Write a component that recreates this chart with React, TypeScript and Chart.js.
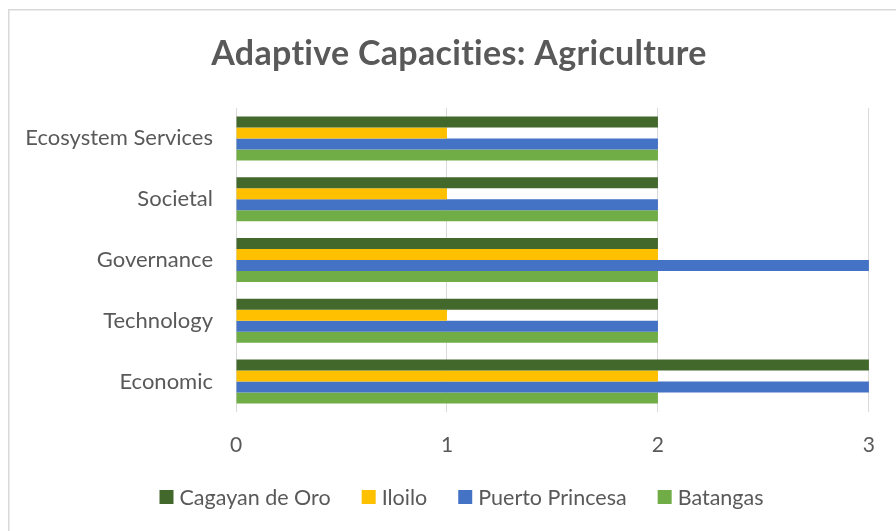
import React, { useEffect, useRef } from "react";
import { Chart, registerables } from "chart.js";

Chart.register(...registerables);

// ---- data ----
const chartTitle = "Adaptive Capacities: Agriculture";
const categories = ["Ecosystem Services", "Societal", "Governance", "Technology", "Economic"];
const seriesNames = ["Cagayan de Oro", "Iloilo", "Puerto Princesa", "Batangas"];
const cagayanDeOro = [2, 2, 2, 2, 3];
const iloilo = [1, 1, 2, 1, 2];
const puertoPrincesa = [2, 2, 3, 2, 3];
const batangas = [2, 2, 2, 2, 2];
const xTicks = [0, 1, 2, 3];

// ---- styling ----
const seriesColors = ["#43682b", "#ffc000", "#4472c4", "#70ad47"];
const FONT = "Lato, 'Open Sans', sans-serif";
const TEXT = "#595959";
const GRID = "#d9d9d9";
const W = 896;
const H = 531;

// Frame, title and legend drawn straight onto the canvas
const decorPlugin = {
  id: "decor",
  beforeDraw(chart: any) {
    const ctx = chart.ctx;
    ctx.save();
    ctx.fillStyle = "#ffffff";
    ctx.fillRect(0, 0, chart.width, chart.height);
    ctx.restore();
  },
  afterDraw(chart: any) {
    const ctx = chart.ctx;
    ctx.save();
    // outer frame (left and top edges)
    ctx.strokeStyle = GRID;
    ctx.lineWidth = 1.5;
    ctx.beginPath();
    ctx.moveTo(8.75, chart.height);
    ctx.lineTo(8.75, 9.75);
    ctx.lineTo(chart.width, 9.75);
    ctx.stroke();

    // title (slight tracking keeps "ti" from turning into a ligature)
    ctx.fillStyle = TEXT;
    ctx.font = `bold 34px ${FONT}`;
    if ("letterSpacing" in ctx) (ctx as any).letterSpacing = "0.3px";
    ctx.textAlign = "center";
    ctx.textBaseline = "alphabetic";
    ctx.fillText(chartTitle, 459, 65);
    if ("letterSpacing" in ctx) (ctx as any).letterSpacing = "0px";

    // legend
    ctx.font = `21.5px ${FONT}`;
    ctx.textAlign = "left";
    ctx.textBaseline = "middle";
    const box = 14;
    const boxGap = 6;
    const itemGap = 31;
    const widths = seriesNames.map((n) => ctx.measureText(n).width);
    const total =
      widths.reduce((a, w) => a + box + boxGap + w, 0) + itemGap * (seriesNames.length - 1);
    let x = 461.5 - total / 2;
    const y = 497;
    seriesNames.forEach((name, i) => {
      ctx.fillStyle = seriesColors[i];
      ctx.fillRect(x, y - box / 2, box, box);
      ctx.fillStyle = TEXT;
      ctx.fillText(name, x + box + boxGap, y + 1);
      x += box + boxGap + widths[i] + itemGap;
    });
    ctx.restore();
  },
};

export default function App() {
  const canvasRef = useRef<HTMLCanvasElement | null>(null);

  useEffect(() => {
    const canvas = canvasRef.current;
    if (!canvas) return;
    const seriesValues = [cagayanDeOro, iloilo, puertoPrincesa, batangas];
    const chart = new Chart(canvas, {
      type: "bar",
      data: {
        labels: categories,
        datasets: seriesNames.map((name, i) => ({
          label: name,
          data: seriesValues[i],
          backgroundColor: seriesColors[i],
          borderWidth: 0,
          categoryPercentage: 0.724,
          barPercentage: 1,
        })),
      },
      options: {
        indexAxis: "y",
        responsive: false,
        animation: false,
        devicePixelRatio: 1,
        layout: { padding: { top: 108, left: 9, right: 25, bottom: 0 } },
        plugins: {
          legend: { display: false },
          title: { display: false },
          tooltip: { enabled: false },
        },
        scales: {
          x: {
            type: "linear",
            min: xTicks[0],
            max: xTicks[xTicks.length - 1],
            afterBuildTicks: (s: any) => {
              s.ticks = xTicks.map((v) => ({ value: v }));
            },
            afterFit: (s: any) => {
              s.height = 119;
            },
            ticks: {
              padding: 21,
              color: TEXT,
              font: { family: FONT, size: 21 },
            },
            grid: { color: GRID, lineWidth: 1, drawTicks: false },
            border: { display: false },
          },
          y: {
            afterFit: (s: any) => {
              s.width = 227;
            },
            ticks: {
              padding: 23,
              color: TEXT,
              font: { family: FONT, size: 22 },
            },
            grid: { display: false, drawTicks: false },
            border: { display: false },
          },
        },
      },
      plugins: [decorPlugin],
    });
    return () => chart.destroy();
  }, []);

  return (
    <div style={{ position: "fixed", left: 0, top: 0, width: W, height: H, background: "#fff" }}>
      <canvas ref={canvasRef} width={W} height={H} style={{ display: "block", width: W, height: H }} />
    </div>
  );
}
